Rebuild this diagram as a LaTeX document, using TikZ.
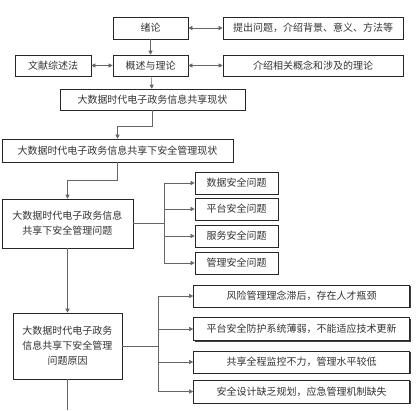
\documentclass[tikz,border=0pt]{standalone}
\usepackage{fontspec}
\newfontfamily\cjk{Noto Sans CJK SC}
\usetikzlibrary{arrows.meta,shadows}

\begin{document}
\begin{tikzpicture}[x=1pt,y=-1pt,
  box/.style={draw=black!85,line width=0.6pt,fill=white,inner sep=0pt,align=center,
    text=black!80,font=\cjk\fontsize{10}{15}\selectfont,
    drop shadow={shadow xshift=1.3pt,shadow yshift=-1.3pt,fill=black!75,opacity=1}},
  link/.style={draw=black!60,line width=0.5pt},
  arr/.style={link,-{Triangle[length=4pt,width=4pt]}},
  dbl/.style={link,{Triangle[length=4pt,width=4pt]}-{Triangle[length=4pt,width=4pt]}}]
\useasboundingbox (0,0) rectangle (418,410);

% top rows
\node[box,minimum width=75pt,minimum height=22pt] (intro) at (150.5,28) {绪论};
\node[box,minimum width=180pt,minimum height=22pt] (intronote) at (313,28) {提出问题，介绍背景、意义、方法等};
\node[box,minimum width=76pt,minimum height=21pt] (method) at (53,65.5) {文献综述法};
\node[box,minimum width=75pt,minimum height=21pt] (theory) at (150.5,65.5) {概述与理论};
\node[box,minimum width=180pt,minimum height=21pt] (theorynote) at (313,65.5) {介绍相关概念和涉及的理论};
\node[box,minimum width=185pt,minimum height=21pt] (status) at (152.5,99.5) {大数据时代电子政务信息共享现状};
\node[box,minimum width=231pt,minimum height=23pt] (secstatus) at (117.5,150.5) {大数据时代电子政务信息共享下安全管理现状};

% problems
\node[box,minimum width=131pt,minimum height=49pt] (problem) at (67.5,223.5) {大数据时代电子政务信息\\共享下安全管理问题};
\node[box,minimum width=83pt,minimum height=22pt] (p1) at (236.5,183) {数据安全问题};
\node[box,minimum width=83pt,minimum height=22pt] (p2) at (236.5,209) {平台安全问题};
\node[box,minimum width=83pt,minimum height=22pt] (p3) at (236.5,236) {服务安全问题};
\node[box,minimum width=83pt,minimum height=22pt] (p4) at (236.5,263) {管理安全问题};

% causes
\node[box,minimum width=109pt,minimum height=66pt] (cause) at (67.5,346) {大数据时代电子政务\\信息共享下安全管理\\问题原因};
\node[box,minimum width=216pt,minimum height=22pt] (c1) at (301.5,296) {风险管理理念滞后，存在人才瓶颈};
\node[box,minimum width=216pt,minimum height=23pt] (c2) at (301.5,329) {平台安全防护系统薄弱，不能适应技术更新};
\node[box,minimum width=216pt,minimum height=22pt] (c3) at (301.5,362) {共享全程监控不力，管理水平较低};
\node[box,minimum width=216pt,minimum height=23pt] (c4) at (301.5,391.5) {安全设计缺乏规划，应急管理机制缺失};

\coordinate (pj) at (164,223.5);
\coordinate (cj) at (158,346);
\coordinate (cend) at (67.5,410);

% connectors
\draw[dbl] (intro) -- (intronote);
\draw[dbl] (method) -- (theory);
\draw[dbl] (theory) -- (theorynote);
\draw[arr] (intro) -- (theory);
\draw[arr] (theory) -- (status);
\draw[arr] (status.south) -- ++(0,16) -| (secstatus.north);
\draw[arr] (secstatus.south) -- ++(0,18) -| (problem.north);
\draw[link] (problem.east) -- (pj);
\foreach \p in {p1,p2,p3,p4}
  \draw[arr] (pj) |- (\p.west);
\draw[arr] (problem) -- (cause);
\draw[link] (cause.east) -- (cj);
\foreach \c in {c1,c2,c3,c4}
  \draw[arr] (cj) |- (\c.west);
\draw[link] (cause.south) -- (cend);
\end{tikzpicture}
\end{document}
